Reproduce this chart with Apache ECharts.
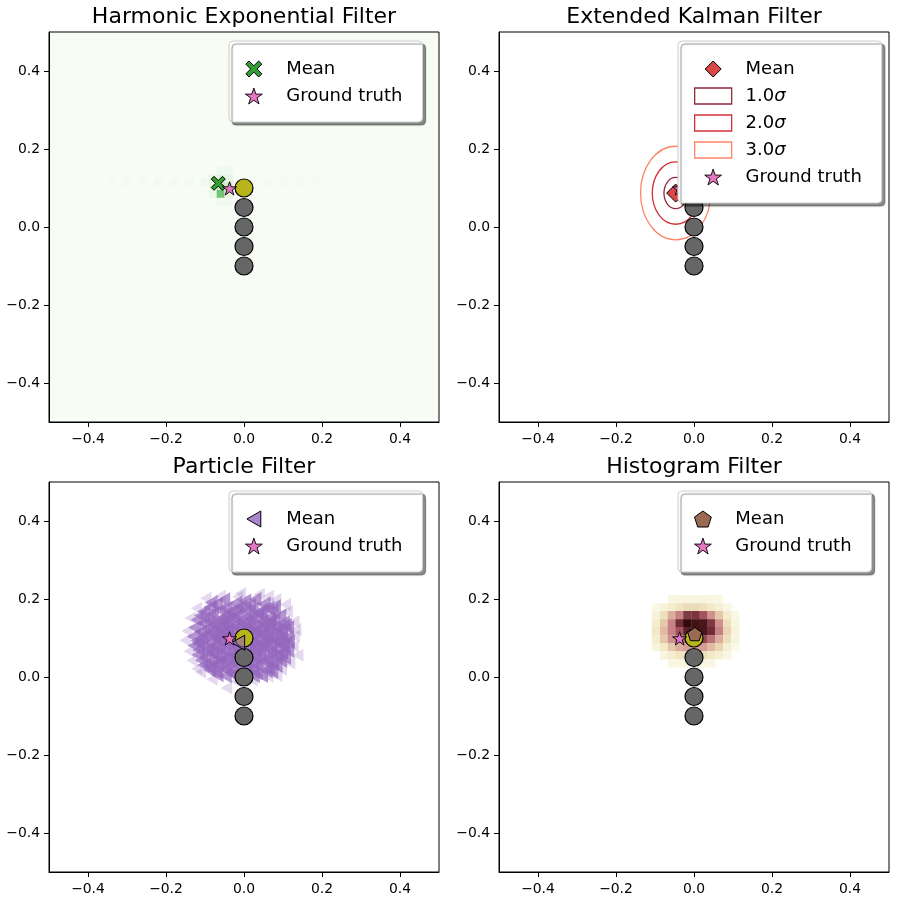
<!DOCTYPE html>
<html>
<head>
<meta charset="utf-8">
<title>Filter comparison</title>
<script src="https://cdn.jsdelivr.net/npm/echarts@6/dist/echarts.min.js"></script>
<style>
    html, body { margin: 0; padding: 0; background: #fff; }
    #main { width: 900px; height: 900px; }
</style>
</head>
<body>
<div id="main"></div>
<script>
(function (echarts) {
    "use strict";

    // ---------- data ----------
    var titles = ['Harmonic Exponential Filter', 'Extended Kalman Filter', 'Particle Filter', 'Histogram Filter'];
    var tickValues = [-0.4, -0.2, 0, 0.2, 0.4];

    // robot path: past positions (grey) and current one (olive)
    var pastX = [0, 0, 0, 0];
    var pastY = [0.05, 0, -0.05, -0.1];
    var currentPos = [0, 0.1];
    var groundTruth = [-0.037, 0.099];

    var hefMean = [-0.066, 0.112];
    var ekfMean = [-0.047, 0.087];
    var ekfSigma = [0.030, 0.040];
    var sigmaLevels = [3, 2, 1];
    var pfMean = [-0.015, 0.088];
    var hfMean = [0.002, 0.110];

    // HEF density cells [x, y, value]
    var hefCells = [
        [-0.34, 0.115, 0.02], [-0.30, 0.115, 0.025], [-0.26, 0.115, 0.02], [-0.22, 0.115, 0.03],
        [-0.18, 0.115, 0.025], [-0.14, 0.115, 0.03], [-0.10, 0.115, 0.04],
        [0.02, 0.115, 0.03], [0.06, 0.115, 0.025], [0.10, 0.115, 0.02], [0.14, 0.115, 0.02], [0.18, 0.115, 0.015],
        [-0.08, 0.125, 0.08], [-0.06, 0.125, 0.15], [-0.04, 0.125, 0.12],
        [-0.08, 0.105, 0.10], [-0.06, 0.105, 0.25], [-0.04, 0.105, 0.20],
        [-0.08, 0.085, 0.08], [-0.06, 0.085, 0.50], [-0.04, 0.085, 0.10],
        [-0.06, 0.145, 0.05], [-0.04, 0.145, 0.05], [-0.06, 0.065, 0.05], [-0.04, 0.065, 0.04]
    ];

    // histogram filter grid
    var hfX = [-0.098, -0.077, -0.057, -0.037, -0.017, 0.004, 0.024, 0.044, 0.064, 0.085, 0.105];
    var hfY = [0.200, 0.179, 0.159, 0.138, 0.118, 0.097, 0.077, 0.056, 0.036];
    var hfValues = [
        [0, 0, 0.04, 0.06, 0.06, 0.06, 0.06, 0.05, 0.04, 0, 0],
        [0.03, 0.08, 0.12, 0.18, 0.22, 0.22, 0.20, 0.15, 0.10, 0.05, 0],
        [0.08, 0.20, 0.40, 0.55, 0.80, 0.82, 0.70, 0.50, 0.30, 0.12, 0.04],
        [0.12, 0.30, 0.55, 0.85, 1.00, 0.96, 0.95, 0.80, 0.50, 0.20, 0.06],
        [0.15, 0.35, 0.55, 0.70, 0.90, 0.95, 0.95, 0.85, 0.55, 0.25, 0.08],
        [0.12, 0.30, 0.50, 0.60, 0.65, 0.70, 0.75, 0.60, 0.40, 0.20, 0.06],
        [0.06, 0.15, 0.30, 0.40, 0.45, 0.45, 0.45, 0.35, 0.25, 0.10, 0.03],
        [0, 0.06, 0.12, 0.18, 0.20, 0.20, 0.20, 0.15, 0.10, 0.05, 0],
        [0, 0, 0.04, 0.05, 0.06, 0.06, 0.05, 0.04, 0, 0, 0]
    ];

    // particle filter samples (dense core)
    var particles = [
        [-0.052, 0.198], [0.002, 0.195], [0.028, 0.199], [-0.084, 0.191],
        [-0.071, 0.186], [-0.022, 0.189], [0.014, 0.184], [0.052, 0.188],
        [-0.088, 0.179], [-0.046, 0.176], [-0.008, 0.181], [0.021, 0.174], [0.061, 0.177], [0.078, 0.181],
        [-0.103, 0.168], [-0.062, 0.172], [-0.031, 0.165], [0.003, 0.169], [0.036, 0.163], [0.072, 0.169],
        [-0.112, 0.158], [-0.081, 0.162], [-0.052, 0.154], [-0.019, 0.159], [0.011, 0.156], [0.041, 0.161], [0.066, 0.152], [0.092, 0.157],
        [-0.120, 0.147], [-0.093, 0.151], [-0.066, 0.144], [-0.038, 0.149], [-0.011, 0.143], [0.019, 0.148], [0.046, 0.141], [0.077, 0.146], [0.101, 0.139],
        [-0.104, 0.137], [-0.077, 0.133], [-0.049, 0.139], [-0.024, 0.131], [0.001, 0.136], [0.026, 0.129], [0.052, 0.134], [0.082, 0.128], [0.106, 0.133],
        [-0.126, 0.127], [-0.096, 0.123], [-0.069, 0.128], [-0.042, 0.121], [-0.014, 0.126], [0.009, 0.119], [0.037, 0.124], [0.061, 0.118], [0.091, 0.122], [0.112, 0.126],
        [-0.112, 0.116], [-0.086, 0.111], [-0.058, 0.117], [-0.029, 0.109], [-0.004, 0.114], [0.022, 0.108], [0.046, 0.113], [0.071, 0.106], [0.096, 0.112],
        [-0.130, 0.104], [-0.101, 0.107], [-0.074, 0.099], [-0.051, 0.104], [-0.019, 0.098], [0.006, 0.103], [0.031, 0.096], [0.056, 0.101], [0.086, 0.094], [0.110, 0.100],
        [-0.121, 0.093], [-0.089, 0.088], [-0.063, 0.094], [-0.034, 0.086], [-0.009, 0.091], [0.016, 0.084], [0.042, 0.089], [0.066, 0.083], [0.091, 0.087], [0.114, 0.091],
        [-0.128, 0.081], [-0.106, 0.084], [-0.079, 0.077], [-0.048, 0.082], [-0.024, 0.074], [0.001, 0.079], [0.026, 0.072], [0.051, 0.077], [0.079, 0.071], [0.102, 0.079],
        [-0.116, 0.069], [-0.092, 0.064], [-0.061, 0.071], [-0.036, 0.062], [-0.011, 0.067], [0.014, 0.061], [0.041, 0.066], [0.068, 0.059], [0.096, 0.064], [0.112, 0.068],
        [-0.118, 0.057], [-0.099, 0.052], [-0.071, 0.058], [-0.044, 0.049], [-0.021, 0.055], [0.004, 0.048], [0.029, 0.053], [0.059, 0.047], [0.085, 0.054], [0.104, 0.050],
        [-0.109, 0.043], [-0.084, 0.039], [-0.056, 0.045], [-0.031, 0.037], [-0.006, 0.042], [0.021, 0.036], [0.049, 0.041], [0.074, 0.035], [0.094, 0.042],
        [-0.103, 0.031], [-0.091, 0.027], [-0.066, 0.033], [-0.041, 0.025], [-0.014, 0.030], [0.011, 0.024], [0.036, 0.029], [0.064, 0.023], [0.082, 0.030],
        [-0.088, 0.018], [-0.072, 0.014], [-0.048, 0.020], [-0.019, 0.012], [0.006, 0.017], [0.031, 0.011], [0.057, 0.016], [0.071, 0.014],
        [-0.069, 0.006], [-0.048, 0.003], [-0.027, 0.006], [0.001, 0.002], [0.024, 0.004], [0.045, 0.004],
        [-0.060, 0.125], [-0.030, 0.120], [0.000, 0.125], [0.030, 0.118], [0.060, 0.126],
        [-0.075, 0.105], [-0.045, 0.100], [-0.015, 0.108], [0.015, 0.101], [0.045, 0.107], [0.075, 0.099],
        [-0.070, 0.085], [-0.040, 0.092], [-0.010, 0.082], [0.020, 0.090], [0.050, 0.083], [0.080, 0.091],
        [-0.080, 0.062], [-0.050, 0.068], [-0.020, 0.060], [0.010, 0.069], [0.040, 0.060], [0.070, 0.067],
        [-0.055, 0.145], [-0.025, 0.152], [0.005, 0.144], [0.035, 0.151], [0.065, 0.143],
        [-0.060, 0.040], [-0.030, 0.047], [0.000, 0.038], [0.030, 0.046], [0.060, 0.039],
        [-0.087, 0.141], [-0.043, 0.133], [0.014, 0.131], [0.068, 0.136], [-0.108, 0.098], [-0.081, 0.117],
        [0.033, 0.079], [0.058, 0.091], [0.097, 0.101], [-0.094, 0.072], [-0.066, 0.051], [-0.005, 0.053],
        [0.023, 0.022], [-0.036, 0.014], [0.046, 0.171], [-0.016, 0.176], [0.083, 0.116], [-0.117, 0.085],
        [-0.039, 0.166], [0.007, 0.092], [-0.053, 0.114], [0.088, 0.058], [-0.079, 0.029], [0.101, 0.083]
    ];

    // particle filter samples (sparse fringe)
    var fringeParticles = [
        [-0.045, -0.028], [0.138, 0.056], [0.128, 0.142], [-0.146, 0.118], [-0.122, 0.176], [0.081, 0.199],
        [-0.009, 0.214], [0.039, 0.212], [-0.061, 0.208], [0.111, 0.168], [0.129, 0.105], [0.126, 0.078],
        [-0.141, 0.066], [-0.133, 0.042], [-0.111, 0.012], [-0.082, -0.006], [-0.021, -0.011], [0.021, -0.008],
        [0.061, 0.002], [0.096, 0.019], [0.117, 0.036], [-0.151, 0.094], [-0.138, 0.151], [-0.098, 0.202],
        [0.106, 0.186], [0.133, 0.121], [-0.016, 0.206], [0.062, 0.207], [-0.121, 0.021], [0.084, 0.003]
    ];

    // ---------- style ----------
    var FONT = 'DejaVu Sans';
    var SYM_X = 'path://M0,4 L4,0 L10,6 L16,0 L20,4 L14,10 L20,16 L16,20 L10,14 L4,20 L0,16 L6,10 Z';
    var SYM_STAR = 'path://M10,0 L12.25,6.91 L19.51,6.91 L13.63,11.18 L15.88,18.09 L10,13.82 L4.12,18.09 L6.37,11.18 L0.49,6.91 L7.75,6.91 Z';
    var SYM_LEFT = 'path://M0,10 L17.32,0 L17.32,20 Z';
    var SYM_PENT = 'path://M10,0 L19.51,6.91 L15.88,18.09 L4.12,18.09 L0.49,6.91 Z';
    var SYM_DIAMOND = 'path://M10,0 L20,10 L10,20 L0,10 Z';
    var SIGMA_COLORS = {1: '#8f2a3b', 2: '#d4303a', 3: '#fb8468'};

    var grids = [
        {left: 49, top: 32, width: 390, height: 390},
        {left: 499, top: 32, width: 390, height: 390},
        {left: 49, top: 482, width: 390, height: 390},
        {left: 499, top: 482, width: 390, height: 390}
    ];

    function fmtTick(v) {
        if (Math.abs(v) < 1e-9) {
            return '0.0';
        }
        return (v < 0 ? '\u2212' : '') + Math.abs(v).toFixed(1);
    }

    function makeAxis(gi, isX) {
        return {
            type: 'value', gridIndex: gi, min: -0.5, max: 0.5,
            axisLine: {show: true, onZero: false, lineStyle: {color: '#000', width: 1}},
            axisTick: {show: true, length: 5, customValues: tickValues, lineStyle: {color: '#000', width: 1}},
            axisLabel: {customValues: tickValues, formatter: fmtTick, color: '#000', fontSize: 13.9, fontFamily: FONT, margin: isX ? 10 : 9},
            splitLine: {show: false}
        };
    }

    function scatter(name, gi, data, symbol, size, itemStyle) {
        if (itemStyle.opacity == null) {
            itemStyle.opacity = 1;
        }
        return {
            type: 'scatter', name: name, xAxisIndex: gi, yAxisIndex: gi,
            data: data, symbol: symbol, symbolSize: size, symbolKeepAspect: true,
            itemStyle: itemStyle, silent: true
        };
    }

    // cells drawn through the axis scale
    function cellSeries(name, gi, data, cellSize) {
        return {
            type: 'custom', name: name, xAxisIndex: gi, yAxisIndex: gi,
            data: data, encode: {x: 0, y: 1}, silent: true,
            renderItem: function (params, api) {
                var c = api.coord([api.value(0), api.value(1)]);
                var s = api.size([cellSize, cellSize]);
                return {
                    type: 'rect',
                    shape: {x: c[0] - s[0] / 2, y: c[1] - s[1] / 2, width: s[0] + 0.4, height: s[1] + 0.4},
                    style: {fill: api.visual('color')}
                };
            }
        };
    }

    function ellipseSeries(k) {
        var color = SIGMA_COLORS[k];
        return {
            type: 'custom', name: k.toFixed(1) + 'σ', xAxisIndex: 1, yAxisIndex: 1,
            data: [[ekfMean[0], ekfMean[1], k * ekfSigma[0], k * ekfSigma[1]]],
            encode: {x: 0, y: 1}, silent: true,
            renderItem: function (params, api) {
                var c = api.coord([api.value(0), api.value(1)]);
                var s = api.size([api.value(2), api.value(3)]);
                return {
                    type: 'ellipse',
                    shape: {cx: c[0], cy: c[1], rx: s[0], ry: s[1]},
                    style: {fill: 'none', stroke: color, lineWidth: 1.3}
                };
            }
        };
    }

    // path markers shared by every panel
    function pathSeries(gi) {
        var past = [];
        for (var i = 0; i < pastX.length; i++) {
            past.push([pastX[i], pastY[i]]);
        }
        return [
            scatter('path', gi, past, 'circle', 18, {color: '#666666', borderColor: '#000', borderWidth: 1.2}),
            scatter('current', gi, [currentPos], 'circle', 18, {color: '#b7b41c', borderColor: '#000', borderWidth: 1.2})
        ];
    }

    function gtSeries(gi) {
        return scatter('Ground truth', gi, [groundTruth], SYM_STAR, 14, {color: '#e377c2', borderColor: '#000', borderWidth: 0.9});
    }

    var gtLegendItem = {name: 'Ground truth', icon: SYM_STAR, itemStyle: {color: '#e377c2', borderColor: '#000', borderWidth: 0.9, opacity: 1}};

    function makeLegend(left, top, items) {
        return {
            orient: 'vertical', left: left, top: top, selectedMode: false,
            itemWidth: 37, itemHeight: 16, itemGap: 7,
            padding: [18, 20, 16, 16],
            backgroundColor: '#fff', borderColor: '#cccccc', borderWidth: 1, borderRadius: 4,
            shadowColor: 'rgba(0,0,0,0.45)', shadowBlur: 1, shadowOffsetX: 3, shadowOffsetY: 3,
            textStyle: {
                fontSize: 18, fontFamily: FONT, color: '#000', lineHeight: 20,
                rich: {
                    // invisible spacer: the legend keeps only 5px between icon and text
                    g: {fontSize: 14, fontFamily: FONT, color: 'rgba(0,0,0,0)', lineHeight: 20},
                    t: {fontSize: 18, fontFamily: FONT, color: '#000', lineHeight: 20},
                    s: {fontSize: 18, fontFamily: FONT, fontStyle: 'italic', color: '#000', lineHeight: 20}
                }
            },
            formatter: function (name) {
                var m = /^(.*)σ$/.exec(name);
                if (m) {
                    return '{g|n}{t|' + m[1] + '}{s|σ}';
                }
                return '{g|n}{t|' + name + '}';
            },
            data: items
        };
    }

    // ---------- assemble ----------
    var hfData = [];
    for (var r = 0; r < hfY.length; r++) {
        for (var c = 0; c < hfX.length; c++) {
            if (hfValues[r][c] > 0) {
                hfData.push([hfX[c], hfY[r], hfValues[r][c]]);
            }
        }
    }

    var series = [];
    // 0: HEF density
    series.push(cellSeries('hef', 0, hefCells, 0.02));
    // 1: HF density
    series.push(cellSeries('hf', 3, hfData, 0.0205));

    // HEF panel
    series = series.concat(pathSeries(0));
    series.push(scatter('Mean', 0, [hefMean], SYM_X, 14, {color: '#33a033', borderColor: '#000', borderWidth: 1}));
    series.push(gtSeries(0));

    // EKF panel
    sigmaLevels.forEach(function (k) {
        series.push(ellipseSeries(k));
    });
    series = series.concat(pathSeries(1));
    series.push(scatter('Mean', 1, [ekfMean], SYM_DIAMOND, 18, {color: '#db4646', borderColor: '#000', borderWidth: 1}));
    series.push(gtSeries(1));

    // PF panel
    series.push(scatter('fringe', 2, fringeParticles, SYM_LEFT, 13, {color: '#9467bd', opacity: 0.25}));
    series.push(scatter('particles', 2, particles, SYM_LEFT, 15, {color: '#9467bd', opacity: 0.7}));
    series = series.concat(pathSeries(2));
    series.push(scatter('Mean', 2, [pfMean], SYM_LEFT, 15, {color: 'rgba(148,103,189,0.6)', borderColor: '#000', borderWidth: 1}));
    series.push(gtSeries(2));

    // HF panel
    series = series.concat(pathSeries(3));
    series.push(scatter('Mean', 3, [hfMean], SYM_PENT, 14, {color: '#9b6a52', borderColor: '#000', borderWidth: 1}));
    series.push(gtSeries(3));

    var titleCfg = [];
    for (var t = 0; t < 4; t++) {
        titleCfg.push({
            text: titles[t],
            left: grids[t].left + grids[t].width / 2,
            top: grids[t].top - 26,
            textAlign: 'center',
            padding: 0,
            textStyle: {fontSize: 22, fontWeight: 'normal', fontFamily: FONT, color: '#000'}
        });
    }

    var option = {
        animation: false,
        backgroundColor: '#fff',
        title: titleCfg,
        grid: grids.map(function (g, i) {
            return {
                left: g.left, top: g.top, width: g.width, height: g.height,
                show: true, borderColor: '#000', borderWidth: 1,
                backgroundColor: i === 0 ? '#f7fcf5' : '#fff'
            };
        }),
        xAxis: [makeAxis(0, true), makeAxis(1, true), makeAxis(2, true), makeAxis(3, true)],
        yAxis: [makeAxis(0, false), makeAxis(1, false), makeAxis(2, false), makeAxis(3, false)],
        visualMap: [
            {
                type: 'continuous', show: false, seriesIndex: 0, dimension: 2, min: 0, max: 1,
                inRange: {color: ['#f7fcf5', '#e5f5e0', '#c7e9c0', '#a1d99b', '#74c476', '#41ab5d', '#238b45', '#006d2c', '#00441b']}
            },
            {
                type: 'continuous', show: false, seriesIndex: 1, dimension: 2, min: 0, max: 1,
                inRange: {color: ['#fcfcef', '#f1e8c2', '#e2bfa4', '#cf9190', '#ad5c66', '#74303a', '#33090c']}
            }
        ],
        legend: [
            makeLegend(229, 41, [
                {name: 'Mean', icon: SYM_X, itemStyle: {color: '#33a033', borderColor: '#000', borderWidth: 1, opacity: 1}},
                gtLegendItem
            ]),
            makeLegend(678, 41, [
                {name: 'Mean', icon: SYM_DIAMOND, itemStyle: {color: '#db4646', borderColor: '#000', borderWidth: 1, opacity: 1}},
                {name: '1.0σ', icon: 'rect', itemStyle: {color: 'rgba(0,0,0,0)', borderColor: SIGMA_COLORS[1], borderWidth: 1.3, opacity: 1}},
                {name: '2.0σ', icon: 'rect', itemStyle: {color: 'rgba(0,0,0,0)', borderColor: SIGMA_COLORS[2], borderWidth: 1.3, opacity: 1}},
                {name: '3.0σ', icon: 'rect', itemStyle: {color: 'rgba(0,0,0,0)', borderColor: SIGMA_COLORS[3], borderWidth: 1.3, opacity: 1}},
                gtLegendItem
            ]),
            makeLegend(229, 491, [
                {name: 'Mean', icon: SYM_LEFT, itemStyle: {color: 'rgba(148,103,189,0.8)', borderColor: '#000', borderWidth: 1, opacity: 1}},
                gtLegendItem
            ]),
            makeLegend(678, 491, [
                {name: 'Mean', icon: SYM_PENT, itemStyle: {color: '#9b6a52', borderColor: '#000', borderWidth: 1, opacity: 1}},
                gtLegendItem
            ])
        ],
        series: series
    };

    var chart = echarts.init(document.getElementById('main'), null, {renderer: 'canvas'});
    chart.setOption(option);
})(echarts);
</script>
</body>
</html>
